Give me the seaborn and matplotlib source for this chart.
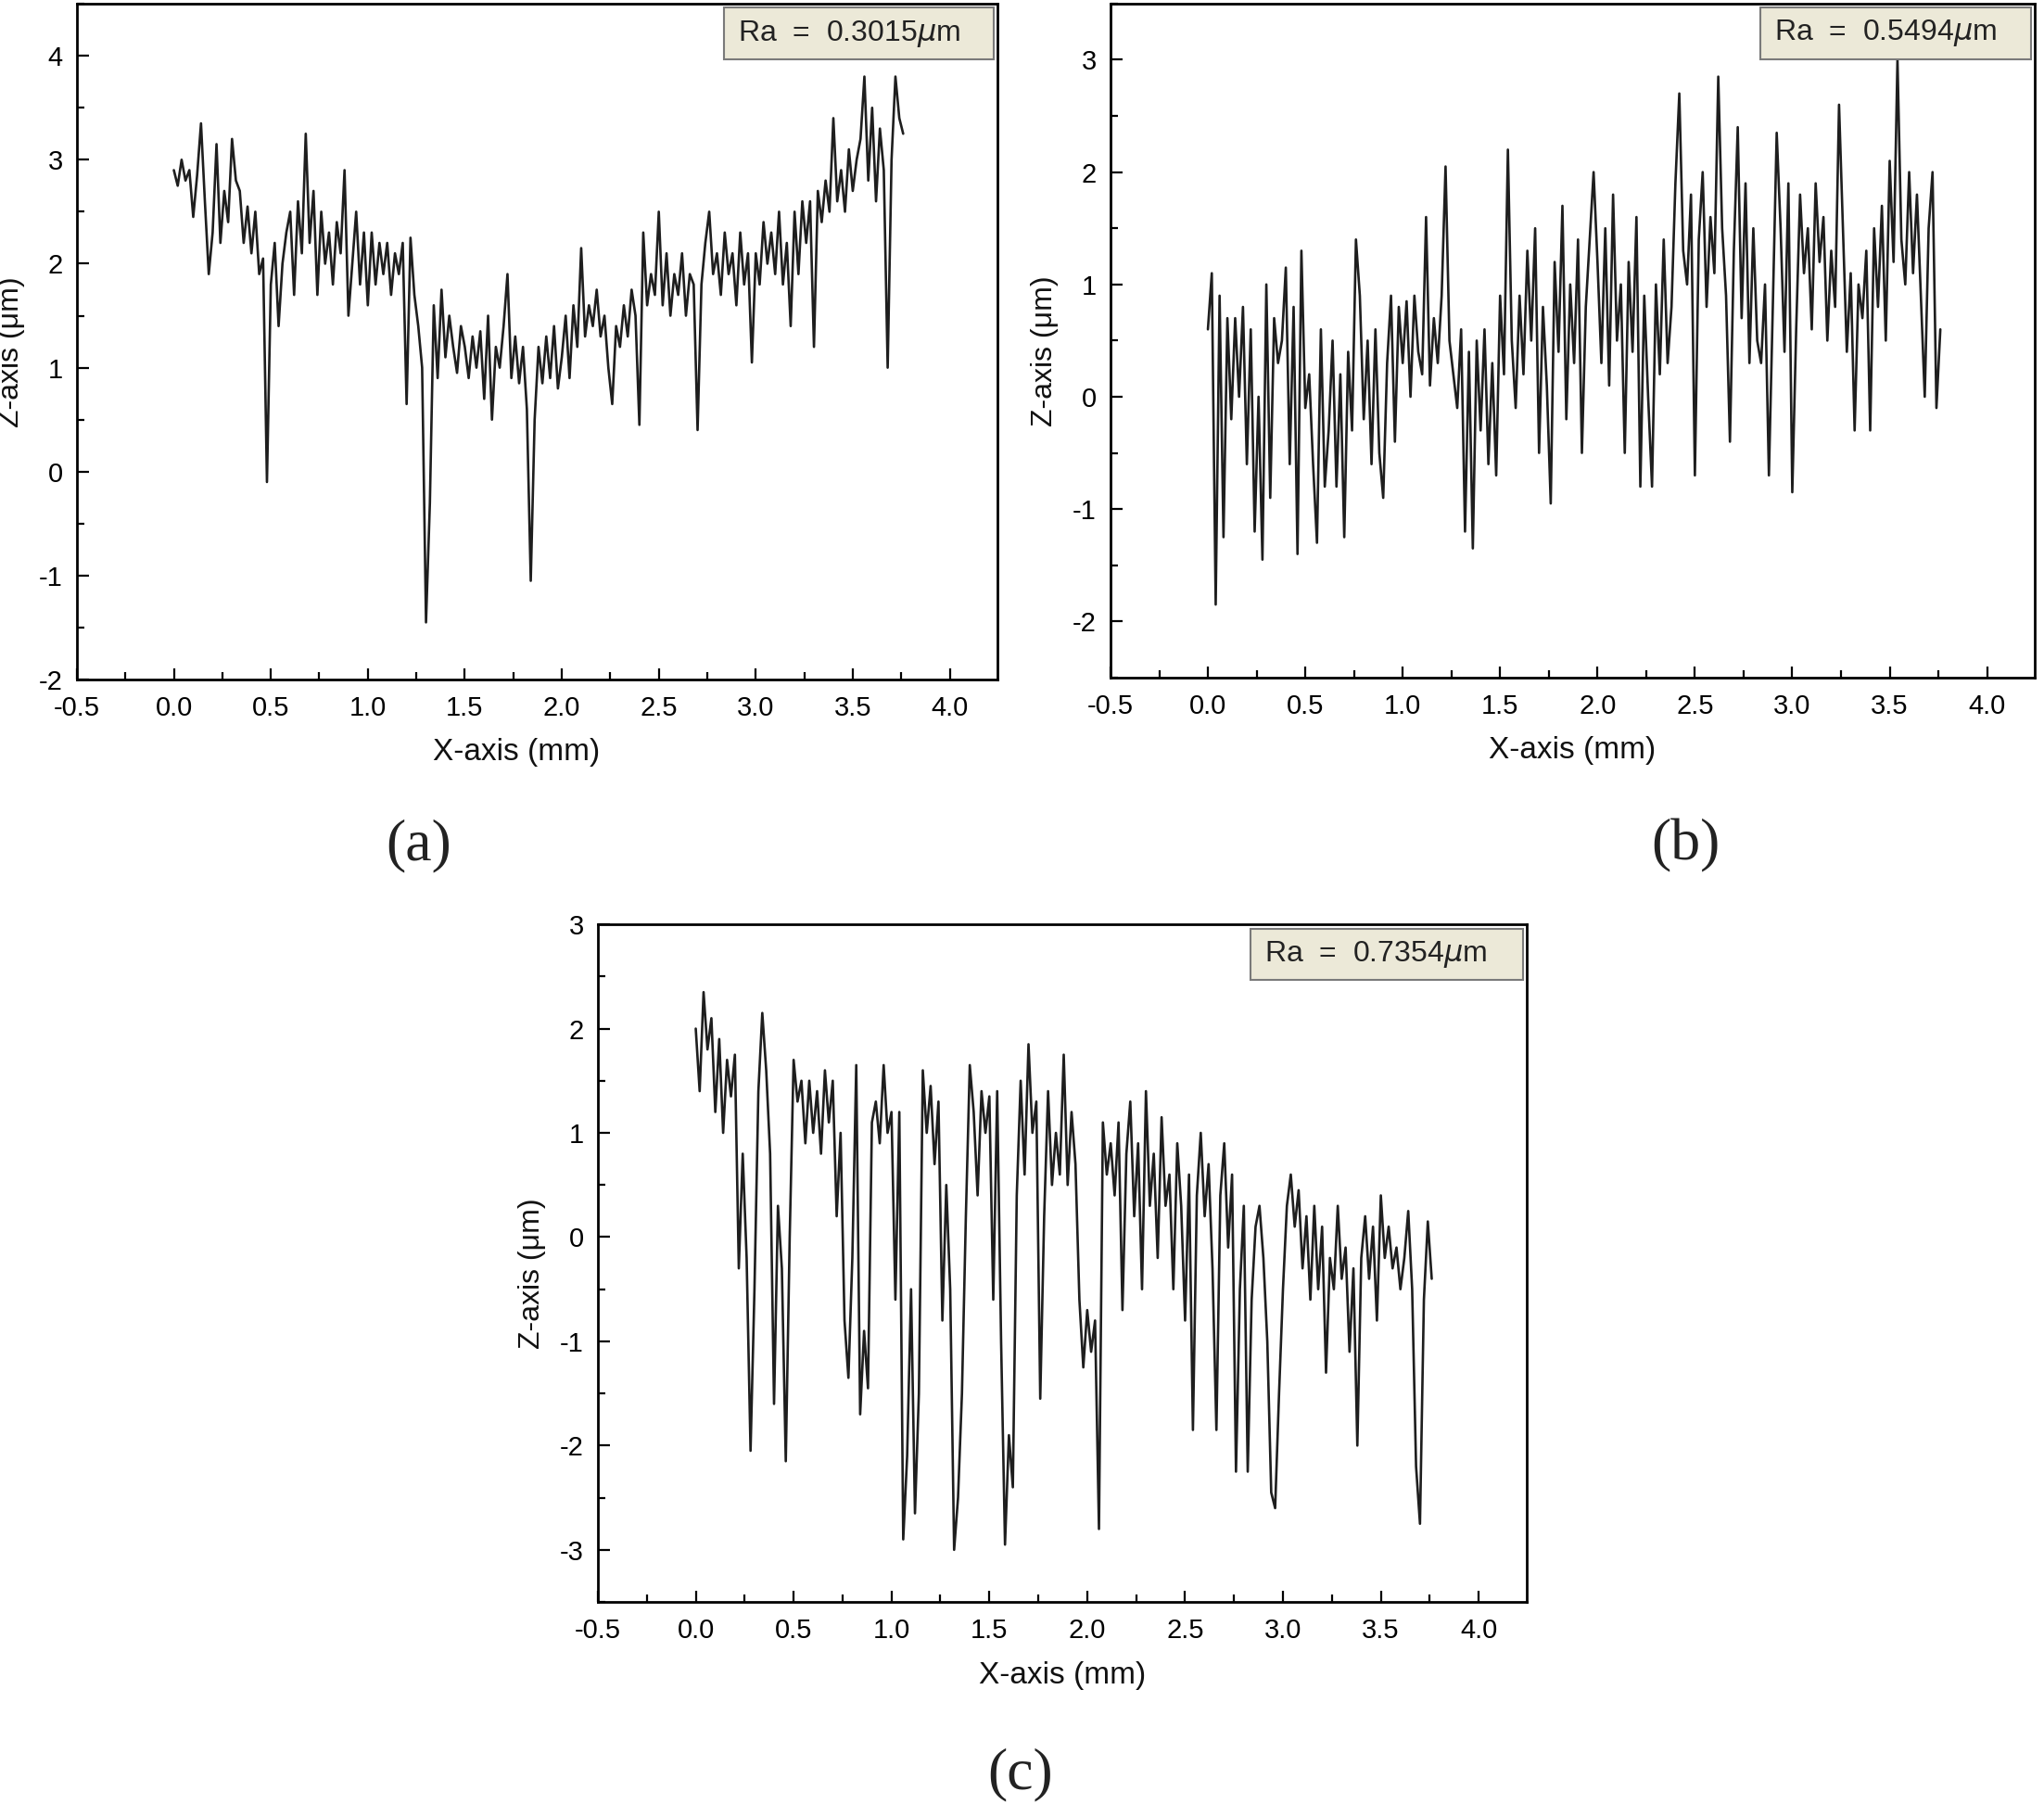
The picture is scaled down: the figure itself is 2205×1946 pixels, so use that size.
import numpy as np
import pandas as pd
import matplotlib
matplotlib.use("Agg")
import matplotlib.pyplot as plt
import seaborn as sns
from matplotlib.patches import Rectangle
from matplotlib.ticker import MultipleLocator

# stylus sampling step along the profile (mm)
x_step = 0.02

# surface profiles (um), one value per step
z_a = [
    2.9, 2.75, 3.0, 2.8, 2.9, 2.45, 2.85, 3.35, 2.6, 1.9,
    2.3, 3.15, 2.2, 2.7, 2.4, 3.2, 2.8, 2.7, 2.2, 2.55,
    2.1, 2.5, 1.9, 2.05, -0.1, 1.8, 2.2, 1.4, 2.0, 2.3,
    2.5, 1.7, 2.6, 2.1, 3.25, 2.2, 2.7, 1.7, 2.5, 2.0,
    2.3, 1.8, 2.4, 2.1, 2.9, 1.5, 2.0, 2.5, 1.8, 2.3,
    1.6, 2.3, 1.8, 2.2, 1.9, 2.2, 1.7, 2.1, 1.9, 2.2,
    0.65, 2.25, 1.7, 1.4, 1.0, -1.45, -0.3, 1.6, 0.9, 1.75,
    1.1, 1.5, 1.2, 0.95, 1.4, 1.2, 0.9, 1.3, 1.0, 1.35,
    0.7, 1.5, 0.5, 1.2, 1.0, 1.4, 1.9, 0.9, 1.3, 0.85,
    1.2, 0.6, -1.05, 0.5, 1.2, 0.85, 1.3, 0.9, 1.4, 0.8,
    1.1, 1.5, 0.9, 1.6, 1.2, 2.15, 1.3, 1.6, 1.4, 1.75,
    1.3, 1.5, 1.0, 0.65, 1.4, 1.2, 1.6, 1.3, 1.75, 1.5,
    0.45, 2.3, 1.6, 1.9, 1.7, 2.5, 1.6, 2.1, 1.5, 1.9,
    1.7, 2.1, 1.5, 1.9, 1.8, 0.4, 1.8, 2.2, 2.5, 1.9,
    2.1, 1.7, 2.3, 1.9, 2.1, 1.6, 2.3, 1.8, 2.1, 1.05,
    2.1, 1.8, 2.4, 2.0, 2.3, 1.9, 2.5, 1.8, 2.2, 1.4,
    2.5, 1.9, 2.6, 2.2, 2.6, 1.2, 2.7, 2.4, 2.8, 2.5,
    3.4, 2.6, 2.9, 2.5, 3.1, 2.7, 3.0, 3.2, 3.8, 2.8,
    3.5, 2.6, 3.3, 2.9, 1.0, 3.0, 3.8, 3.4, 3.25,
]

z_b = [
    0.6, 1.1, -1.85, 0.9, -1.25, 0.7, -0.2, 0.7, 0.0, 0.8,
    -0.6, 0.6, -1.2, 0.0, -1.45, 1.0, -0.9, 0.7, 0.3, 0.5,
    1.15, -0.6, 0.8, -1.4, 1.3, -0.1, 0.2, -0.6, -1.3, 0.6,
    -0.8, -0.3, 0.5, -0.8, 0.2, -1.25, 0.4, -0.3, 1.4, 0.9,
    -0.2, 0.5, -0.6, 0.6, -0.5, -0.9, 0.3, 0.9, -0.4, 0.8,
    0.3, 0.85, 0.0, 0.9, 0.4, 0.2, 1.6, 0.1, 0.7, 0.3,
    0.9, 2.05, 0.5, 0.2, -0.1, 0.6, -1.2, 0.4, -1.35, 0.5,
    -0.3, 0.6, -0.6, 0.3, -0.7, 0.9, 0.2, 2.2, 0.5, -0.1,
    0.9, 0.2, 1.3, 0.5, 1.5, -0.5, 0.8, 0.1, -0.95, 1.2,
    0.4, 1.7, -0.2, 1.0, 0.3, 1.4, -0.5, 0.8, 1.4, 2.0,
    1.2, 0.3, 1.5, 0.1, 1.8, 0.5, 1.0, -0.5, 1.2, 0.4,
    1.6, -0.8, 0.9, 0.0, -0.8, 1.0, 0.2, 1.4, 0.3, 0.8,
    1.9, 2.7, 1.3, 1.0, 1.8, -0.7, 1.4, 2.0, 0.8, 1.6,
    1.1, 2.85, 1.5, 0.9, -0.4, 1.3, 2.4, 0.7, 1.9, 0.3,
    1.5, 0.5, 0.3, 1.0, -0.7, 0.8, 2.35, 1.5, 0.4, 1.9,
    -0.85, 0.6, 1.8, 1.1, 1.5, 0.6, 1.9, 1.2, 1.6, 0.5,
    1.3, 0.8, 2.6, 1.5, 0.4, 1.1, -0.3, 1.0, 0.7, 1.3,
    -0.3, 1.5, 0.8, 1.7, 0.5, 2.1, 1.2, 3.0, 1.4, 1.0,
    2.0, 1.1, 1.8, 0.9, 0.0, 1.5, 2.0, -0.1, 0.6,
]

z_c = [
    2.0, 1.4, 2.35, 1.8, 2.1, 1.2, 1.9, 1.0, 1.7, 1.35,
    1.75, -0.3, 0.8, -0.2, -2.05, -0.5, 1.4, 2.15, 1.6, 0.8,
    -1.6, 0.3, -0.3, -2.15, 0.0, 1.7, 1.3, 1.5, 0.9, 1.5,
    1.0, 1.4, 0.8, 1.6, 1.1, 1.5, 0.2, 1.0, -0.8, -1.35,
    -0.2, 1.65, -1.7, -0.9, -1.45, 1.1, 1.3, 0.9, 1.65, 1.0,
    1.2, -0.6, 1.2, -2.9, -2.1, -0.5, -2.65, -1.5, 1.6, 1.0,
    1.45, 0.7, 1.3, -0.8, 0.5, -0.5, -3.0, -2.5, -1.5, 0.2,
    1.65, 1.2, 0.4, 1.4, 1.0, 1.35, -0.6, 1.4, -1.0, -2.95,
    -1.9, -2.4, 0.4, 1.5, 0.6, 1.85, 1.0, 1.3, -1.55, 0.2,
    1.4, 0.5, 1.0, 0.6, 1.75, 0.5, 1.2, 0.7, -0.6, -1.25,
    -0.7, -1.1, -0.8, -2.8, 1.1, 0.6, 0.9, 0.4, 1.1, -0.7,
    0.8, 1.3, 0.2, 0.9, -0.5, 1.4, 0.3, 0.8, -0.2, 1.15,
    0.3, 0.6, -0.5, 0.9, 0.3, -0.8, 0.6, -1.85, 0.4, 1.0,
    0.2, 0.7, -0.3, -1.85, 0.4, 0.9, -0.1, 0.6, -2.25, -0.5,
    0.3, -2.25, -0.6, 0.1, 0.3, -0.2, -1.0, -2.45, -2.6, -1.5,
    -0.5, 0.3, 0.6, 0.1, 0.45, -0.3, 0.2, -0.6, 0.3, -0.5,
    0.1, -1.3, -0.2, -0.5, 0.3, -0.4, -0.1, -1.1, -0.3, -2.0,
    -0.2, 0.2, -0.4, 0.1, -0.8, 0.4, -0.2, 0.1, -0.3, -0.1,
    -0.5, -0.2, 0.25, -0.5, -2.2, -2.75, -0.6, 0.15, -0.4,
]

ra_texts = [r"Ra  =  0.3015$\mu$m", r"Ra  =  0.5494$\mu$m", r"Ra  =  0.7354$\mu$m"]
panel_tags = ["(a)", "(b)", "(c)"]
y_limits = [(-2, 4.5), (-2.5, 3.5), (-3.5, 3)]
x_limits = (-0.5, 4.245)

sns.set_style("white")
plt.rcParams["font.family"] = ["Liberation Sans", "DejaVu Sans"]
plt.rcParams["axes.unicode_minus"] = False

fig = plt.figure(figsize=(22.05, 19.46), dpi=100)

# axes boxes in figure fractions: left, bottom, width, height
boxes = [
    [0.0376, 0.6233, 0.4503, 0.3746],
    [0.5433, 0.6244, 0.4522, 0.3736],
    [0.2925, 0.1120, 0.4544, 0.3756],
]
tag_pos = [(0.205, 0.531), (0.8245, 0.531), (0.4993, 0.0164)]
xlabel_x = [0.478, 0.50, 0.50]


def draw_profile(ax, z, ylim, ra_text, xl_x):
    df = pd.DataFrame({"x": x_step * np.arange(len(z)), "z": z})
    sns.lineplot(data=df, x="x", y="z", ax=ax, color="#1e1e1e",
                 linewidth=1.9, estimator=None, sort=False)
    ax.set_xlim(*x_limits)
    ax.set_ylim(*ylim)
    ax.xaxis.set_major_locator(MultipleLocator(0.5))
    ax.xaxis.set_minor_locator(MultipleLocator(0.25))
    ax.yaxis.set_major_locator(MultipleLocator(1))
    ax.yaxis.set_minor_locator(MultipleLocator(0.5))
    ax.tick_params(which="both", direction="in", bottom=True, left=True,
                   top=False, right=False, width=1.6, color="black",
                   labelsize=21, labelcolor="black")
    ax.tick_params(which="major", length=9)
    ax.tick_params(which="minor", length=5.5)
    ax.tick_params(axis="x", which="both", pad=12)
    ax.tick_params(axis="y", which="both", pad=11)
    for s in ax.spines.values():
        s.set_linewidth(2.0)
        s.set_color("black")
    ax.set_xlabel("X-axis (mm)", fontsize=24, color="#111111")
    ax.set_ylabel("Z-axis (\u03bcm)", fontsize=23, color="#111111")
    ax.xaxis.set_label_coords(xl_x, -0.087)
    ax.yaxis.set_label_coords(-0.056, 0.485)

    # Ra box in the upper right corner
    ax.add_patch(Rectangle((0.703, 0.918), 0.293, 0.076, transform=ax.transAxes,
                           facecolor="#ece9d8", edgecolor="#7a7a7a",
                           linewidth=1.5, zorder=5))
    ax.text(0.718, 0.956, ra_text, transform=ax.transAxes, fontsize=23,
            va="center", ha="left", color="#222222", zorder=6)


for box, z, ylim, ra, xl in zip(boxes, [z_a, z_b, z_c], y_limits, ra_texts, xlabel_x):
    ax = fig.add_axes(box)
    draw_profile(ax, z, ylim, ra, xl)

for tag, (tx, ty) in zip(panel_tags, tag_pos):
    fig.text(tx, ty, tag, fontsize=46, ha="center", va="center",
             family=["Liberation Serif", "DejaVu Serif"], color="#222222")

fig.savefig("out.png", dpi=100)
